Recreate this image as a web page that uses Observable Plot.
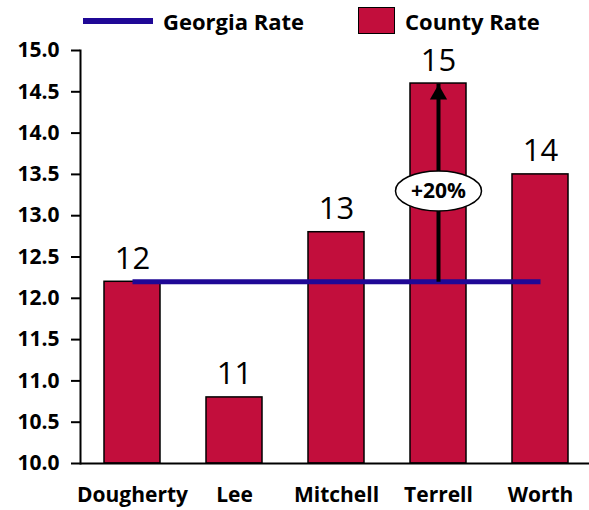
<!DOCTYPE html>
<html><head><meta charset="utf-8">
<script src="https://cdn.jsdelivr.net/npm/d3@7"></script>
<script src="https://cdn.jsdelivr.net/npm/@observablehq/plot@0.6"></script>
<style>
body{margin:0;background:#fff;font-family:"Open Sans",sans-serif;color:#000;}
#wrap{width:589px;}
#legend{position:relative;height:30px;}
.lg-line{position:absolute;left:83px;top:18px;width:70px;height:6px;background:#1f0896;}
.lg-box{position:absolute;left:358px;top:7px;width:35px;height:25px;background:#c20e3c;border:1.5px solid #000;z-index:2;}
.lg-text{position:absolute;top:6px;font-weight:700;font-size:22px;line-height:30px;white-space:nowrap;}
#chart svg{background:transparent;}
</style></head><body>
<div id="wrap">
<div id="legend">
  <div class="lg-line"></div><div class="lg-text" style="left:163px">Georgia Rate</div>
  <div class="lg-box"></div><div class="lg-text" style="left:405px">County Rate</div>
</div>
<div id="chart"></div>
</div>
<script>
const counties = ["Dougherty", "Lee", "Mitchell", "Terrell", "Worth"];
const countyRates = [12.2, 10.8, 12.8, 14.6, 13.5];
const valueLabels = ["12", "11", "13", "15", "14"];
const georgiaRate = 12.2;
const yDomain = [10, 15];
const yTicks = [10, 10.5, 11, 11.5, 12, 12.5, 13, 13.5, 14, 14.5, 15];
const annotationCounty = ["Terrell"];
const annotationFrom = [12.2];
const annotationTo = [14.6];
const annotationLabel = ["+20%"];
const annotationLabelAt = [13.3];

const barColor = "#c20e3c";
const lineColor = "#1f0896";

const rows = counties.map((c, i) => ({county: c, rate: countyRates[i], label: valueLabels[i], base: yDomain[0]}));
const ann = annotationCounty.map((c, i) => ({county: c, from: annotationFrom[i], to: annotationTo[i], label: annotationLabel[i], at: annotationLabelAt[i]}));
const gaLine = [{x1: counties[0], x2: counties[counties.length - 1], y: georgiaRate}];

const ellipse = {
  draw(ctx) {
    const rx = 43, ry = 20, k = 0.5523;
    ctx.moveTo(rx, 0);
    ctx.bezierCurveTo(rx, ry * k, rx * k, ry, 0, ry);
    ctx.bezierCurveTo(-rx * k, ry, -rx, ry * k, -rx, 0);
    ctx.bezierCurveTo(-rx, -ry * k, -rx * k, -ry, 0, -ry);
    ctx.bezierCurveTo(rx * k, -ry, rx, -ry * k, rx, 0);
    ctx.closePath();
  }
};

const chart = Plot.plot({
  width: 589,
  height: 480,
  marginTop: 20,
  marginBottom: 47,
  marginLeft: 80,
  marginRight: 0,
  style: {fontFamily: "Open Sans", fontSize: "21px", fontWeight: 700, color: "#000", background: "transparent", overflow: "visible"},
  x: {domain: counties, range: [80, 592], paddingInner: 0.45, paddingOuter: 0.225, label: null},
  y: {domain: yDomain, label: null},
  marks: [
    Plot.barY(rows, {x: "county", y1: "base", y2: "rate", fill: barColor, stroke: "#000", strokeWidth: 1.5}),
    Plot.text(rows, {x: "county", y: "rate", text: "label", lineAnchor: "bottom", dy: -13, fontSize: 31, fontWeight: 400}),
    Plot.link(gaLine, {x1: "x1", x2: "x2", y1: "y", y2: "y", stroke: lineColor, strokeWidth: 5}),
    Plot.link(ann, {x1: "county", x2: "county", y1: "from", y2: "to", stroke: "#000", strokeWidth: 4}),
    Plot.dot(ann, {x: "county", y: "to", symbol: "triangle", r: 6.4, fill: "#000", stroke: null, dy: 11}),
    Plot.dot(ann, {x: "county", y: "at", symbol: ellipse, fill: "#fff", stroke: "#000", strokeWidth: 1.5}),
    Plot.text(ann, {x: "county", y: "at", text: "label", fontSize: 21, fontWeight: 700}),
    Plot.axisY({ticks: yTicks, tickFormat: d3.format(".1f"), tickSize: 9, tickPadding: 12, strokeWidth: 2}),
    Plot.axisX({tickSize: 0, tickPadding: 24, fontSize: 21}),
    Plot.frame({anchor: "left", strokeWidth: 2}),
    Plot.ruleY([yDomain[0]], {strokeWidth: 2})
  ]
});
document.getElementById("chart").appendChild(chart);
</script>
</body></html>
